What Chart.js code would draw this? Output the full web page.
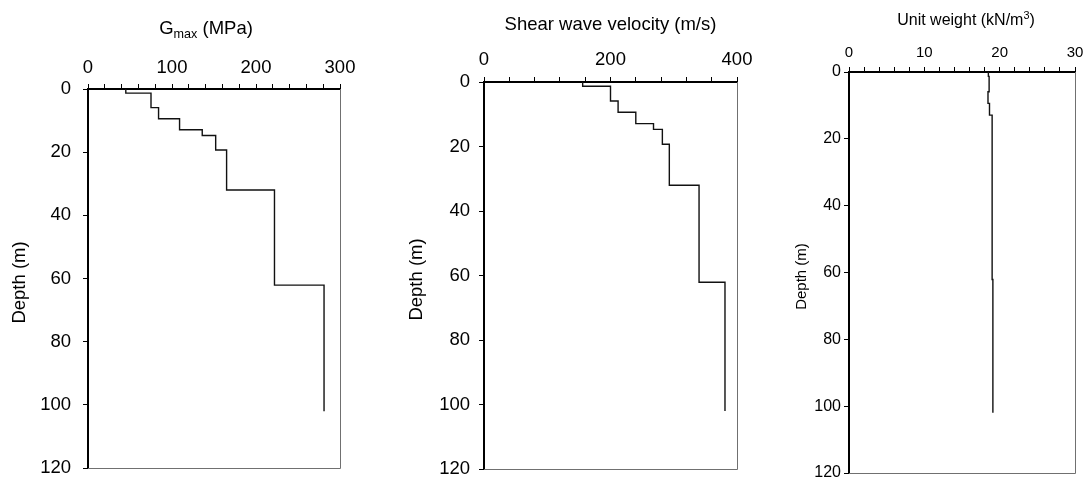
<!DOCTYPE html>
<html>
<head>
<meta charset="utf-8">
<script src="https://cdn.jsdelivr.net/npm/chart.js@4.4.1/dist/chart.umd.min.js"></script>
<style>
  html, body { margin: 0; padding: 0; background: #fff; }
  #wrap { position: relative; width: 1087px; height: 478px; }
  #wrap canvas { position: absolute; left: 0; top: 0; }
</style>
</head>
<body>
<div id="wrap">
  <canvas id="gmax" width="1087" height="478"></canvas>
  <canvas id="vs" width="1087" height="478"></canvas>
  <canvas id="gamma" width="1087" height="478"></canvas>
</div>
<script>
// layer boundaries (m), shared by the three profiles
const layerDepth = [0, 1.3, 5.9, 9.4, 12.9, 14.7, 19.3, 32, 62.1, 102];
// one value per layer
const gmaxValues = [45, 75, 84, 109, 136, 152, 165, 222, 281];
const vsValues = [156, 200, 212, 240, 268, 282, 293, 340, 381];
const unitWeightValues = [18.5, 18.6, 18.45, 18.65, 19.0, 19.0, 19.0, 19.0, 19.1];

const depthTicks = [0, 20, 40, 60, 80, 100, 120];

const W = 1087, H = 478;
const FONT = "'Liberation Sans', Arial, sans-serif";

// value profile -> points for a stepped line (vertical first, then across)
function profilePoints(values) {
  const pts = values.map((v, i) => ({ x: v, y: layerDepth[i] }));
  pts.push({ x: values[values.length - 1], y: layerDepth[layerDepth.length - 1] });
  return pts;
}

const framePlugin = {
  id: 'frame',
  afterDraw(chart) {
    const a = chart.chartArea;
    const ctx = chart.ctx;
    ctx.save();
    ctx.strokeStyle = '#707070';
    ctx.lineWidth = 1;
    ctx.beginPath();
    ctx.moveTo(a.right + 0.5, a.top);
    ctx.lineTo(a.right + 0.5, a.bottom + 0.5);
    ctx.lineTo(a.left, a.bottom + 0.5);
    ctx.stroke();
    ctx.restore();
  },
};

const titlesPlugin = {
  id: 'titles',
  afterDraw(chart, args, opts) {
    const a = chart.chartArea;
    const ctx = chart.ctx;
    ctx.save();
    ctx.fillStyle = '#000';
    ctx.textBaseline = 'alphabetic';
    // top title made of parts (for sub/superscripts)
    const size = opts.size;
    const parts = opts.parts.map((p) => {
      const s = p.sub || p.sup ? size * 0.68 : size;
      ctx.font = `${s}px ${FONT}`;
      return { ...p, s, w: ctx.measureText(p.t).width };
    });
    const total = parts.reduce((acc, p) => acc + p.w, 0);
    let x = (a.left + a.right) / 2 - total / 2 + (opts.dx || 0);
    parts.forEach((p) => {
      ctx.font = `${p.s}px ${FONT}`;
      let y = opts.titleY;
      if (p.sub) y += size * 0.22;
      if (p.sup) y -= size * 0.38;
      ctx.textAlign = 'left';
      ctx.fillText(p.t, x, y);
      x += p.w;
    });
    // depth title
    ctx.font = `${opts.depthSize}px ${FONT}`;
    ctx.translate(opts.depthX, (a.top + a.bottom) / 2 + 4);
    ctx.rotate(-Math.PI / 2);
    ctx.textAlign = 'center';
    ctx.textBaseline = 'middle';
    ctx.fillText('Depth (m)', 0, 0);
    ctx.restore();
  },
};

function makePanel(id, p) {
  const yW = 60, xH = 45;
  return new Chart(document.getElementById(id), {
    type: 'line',
    data: {
      datasets: [{
        data: profilePoints(p.values),
        stepped: 'after',
        borderColor: '#111',
        borderWidth: 1.4,
        pointRadius: 0,
        fill: false,
      }],
    },
    options: {
      responsive: false,
      animation: false,
      events: [],
      layout: {
        padding: {
          left: p.area.left - yW,
          top: p.area.top - xH,
          right: W - p.area.right,
          bottom: H - p.area.bottom,
        },
      },
      plugins: {
        legend: { display: false },
        tooltip: { enabled: false },
        titles: {
          parts: p.title,
          size: p.titleSize,
          titleY: p.titleY,
          dx: p.titleDx || 0,
          depthX: p.depthX,
          depthSize: p.depthSize,
        },
      },
      scales: {
        x: {
          type: 'linear',
          position: 'top',
          min: 0,
          max: p.max,
          afterFit: (s) => {
            s.height = xH;
            s.paddingLeft = 0;
            s.paddingRight = 0;
          },
          afterBuildTicks: (s) => {
            s.ticks = [];
            for (let v = 0; v <= p.max + 1e-9; v += p.minorStep) s.ticks.push({ value: +v.toFixed(6) });
          },
          ticks: {
            autoSkip: false,
            maxRotation: 0,
            color: '#000',
            padding: p.xPad,
            font: { family: FONT, size: p.xTickSize },
            callback: (v) => (Math.abs(v % p.labelStep) < 1e-6 ? v : ''),
          },
          grid: { drawOnChartArea: false, drawTicks: true, tickLength: 5, color: '#000', tickWidth: 1 },
          border: { display: true, color: '#000', width: 2 },
        },
        y: {
          type: 'linear',
          position: 'left',
          reverse: true,
          min: 0,
          max: 120,
          afterFit: (s) => {
            s.width = yW;
            s.paddingTop = 0;
            s.paddingBottom = 0;
          },
          afterBuildTicks: (s) => { s.ticks = depthTicks.map((v) => ({ value: v })); },
          ticks: {
            autoSkip: false,
            color: '#000',
            padding: p.yPad,
            font: { family: FONT, size: p.yTickSize },
          },
          grid: { drawOnChartArea: false, drawTicks: true, tickLength: 5, color: '#000', tickWidth: 1 },
          border: { display: true, color: '#000', width: 2 },
        },
      },
    },
    plugins: [framePlugin, titlesPlugin],
  });
}

makePanel('gmax', {
  values: gmaxValues,
  max: 300, minorStep: 20, labelStep: 100,
  area: { left: 88, right: 340, top: 89, bottom: 468 },
  title: [{ t: 'G' }, { t: 'max', sub: true }, { t: ' (MPa)' }],
  titleSize: 18.5, titleY: 34, titleDx: -8,
  xTickSize: 18.5, yTickSize: 18.5, xPad: 5, yPad: 12,
  depthX: 20, depthSize: 18.5,
});

makePanel('vs', {
  values: vsValues,
  max: 400, minorStep: 40, labelStep: 200,
  area: { left: 484, right: 737, top: 82, bottom: 469 },
  title: [{ t: 'Shear wave velocity (m/s)' }],
  titleSize: 18.5, titleY: 30,
  xTickSize: 18.5, yTickSize: 18.5, xPad: 6, yPad: 9,
  depthX: 417, depthSize: 18.5,
});

makePanel('gamma', {
  values: unitWeightValues,
  max: 30, minorStep: 2, labelStep: 10,
  area: { left: 849, right: 1075, top: 72, bottom: 473 },
  title: [{ t: 'Unit weight (kN/m' }, { t: '3', sup: true }, { t: ')' }],
  titleSize: 16, titleY: 25, titleDx: 4,
  xTickSize: 15, yTickSize: 16, xPad: 5, yPad: 3,
  depthX: 802, depthSize: 15,
});
</script>
</body>
</html>
